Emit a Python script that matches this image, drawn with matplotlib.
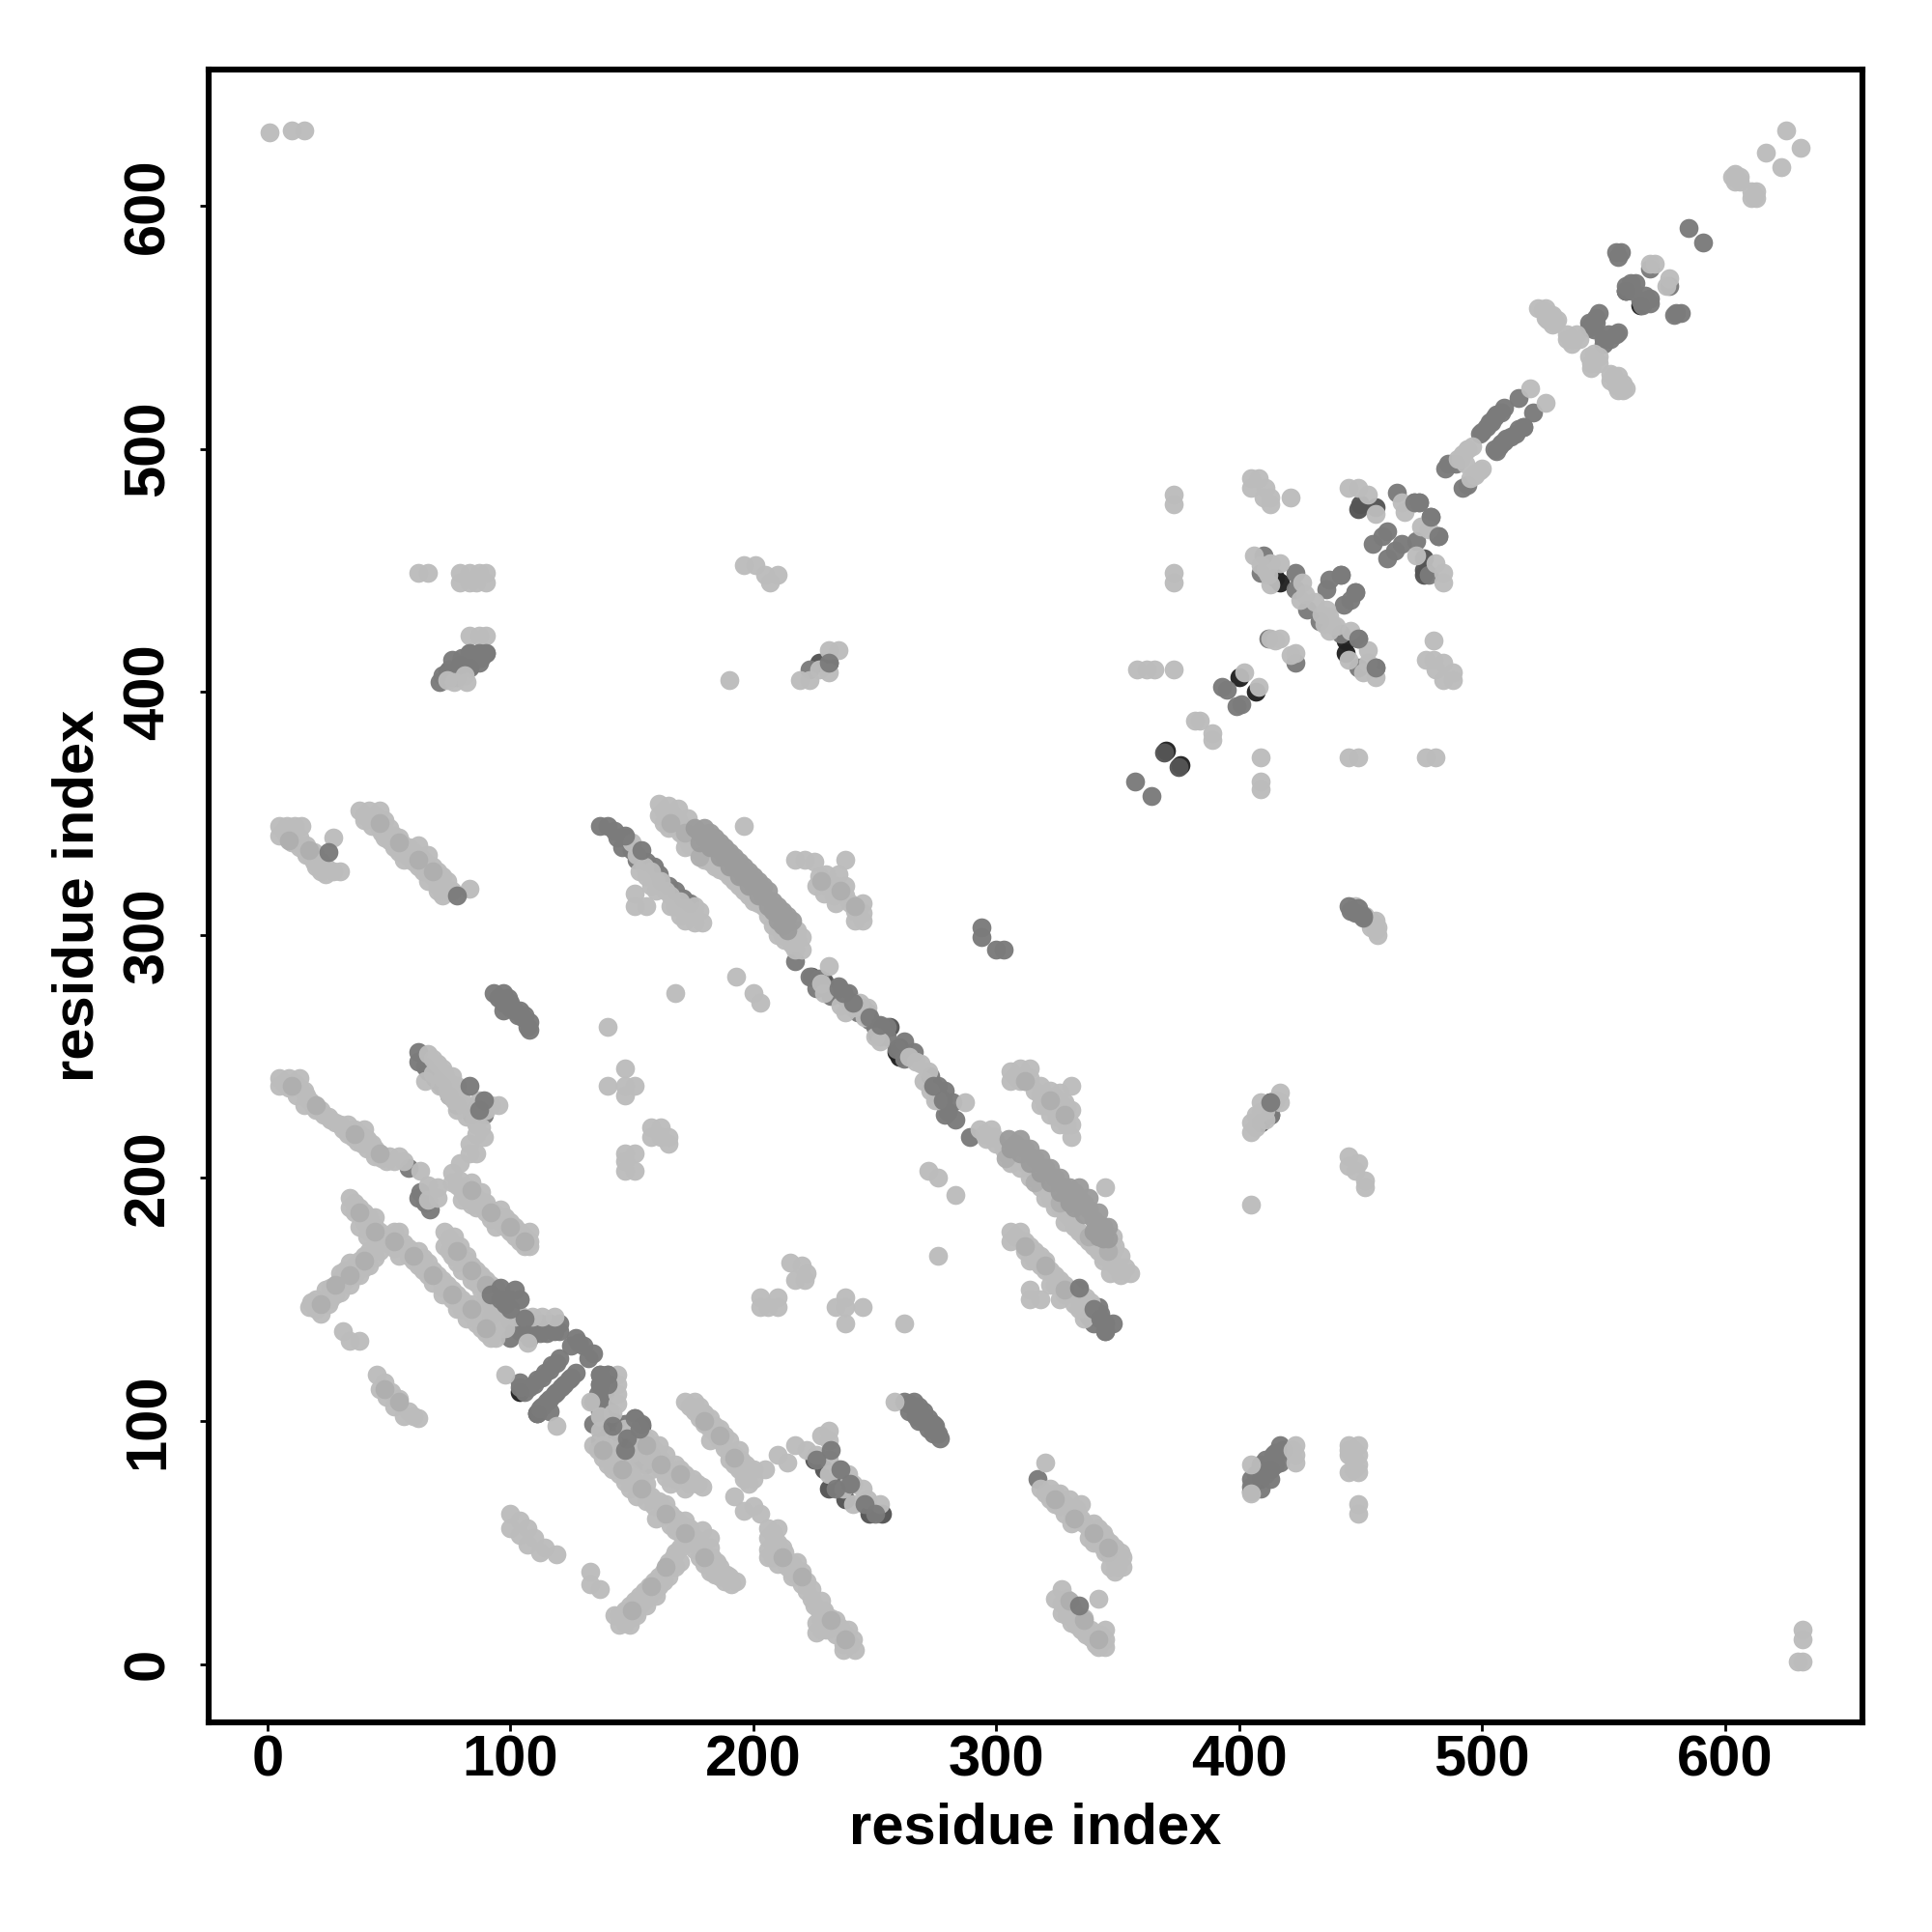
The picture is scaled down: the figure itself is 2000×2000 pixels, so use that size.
import matplotlib
matplotlib.use("Agg")
import matplotlib.pyplot as plt

# contacts, (residue, residue), grouped by grey level
black_pts = [(370,376),(376,370),(400,406),(407,400),(417,445),(415,447),(444,421),(444,416),
    (252,260),(253,262),(259,252),(260,250),(104,112),(111,103),(559,565),(565,559),(74,408),(142,100)]

dark_pts = [(369,375),(375,369),(450,477),(449,475),(456,476),(476,455),(476,450),(476,448),
    (142,99),(148,93),(154,98),(141,97),(137,92),(146,90),(231,412),(227,412),(413,231),(413,226),
    (409,223),(83,410),(79,411),(76,406),(224,283),(229,281),(233,76),(229,80),(225,84),(231,72),(238,68),
    (248,62),(253,62),(70,240),(66,244),(85,228),(409,80),(413,80),(409,76),(251,259),(256,262),(260,254)]

mid_pts = [(137,119),(140,119),(137,115),(140,115),(136,111),(139,111),(134,108),(138,108),(134,99),
    (141,104),(137,104),(151,101),(147,99),(145,95),(151,94),(155,90),(150,88),(158,86),(153,84),(156,82),
    (93,276),(97,276),(97,272),(100,272),(97,269),(102,269),(104,269),(105,266),(108,264),(108,261),
    (95,274),(99,274),(100,270),(103,267),(106,267),(107,262),
    (62,252),(62,248),(65,246),(69,241),(72,238),(75,234),(78,230),(84,226),(88,230),(89,226),
    (58,204),(63,194),(62,192),(67,187),(65,190),
    (92,148),(96,152),(100,150),(92,143),(96,145),(100,141),(104,143),(104,137),(100,134),(108,134),
    (106,137),(109,136),(112,136),(115,136),(118,137),(120,137),(108,140),(112,140),(116,140),(120,140),
    (127,134),(130,131),(134,128),(132,126),(120,126),(117,123),(114,120),(111,117),(108,114),(104,114),
    (104,116),(106,112),(127,120),(124,117),(121,114),(118,111),(115,108),(112,105),(116,104),(111,103),
    (119,124),(116,121),(113,118),(110,115),(125,118),(122,115),(119,112),(116,109),(113,106),(125,131),(128,132),
    (262,108),(266,108),(264,104),(270,104),(268,100),(272,101),(272,97),(275,98),(276,95),(277,93),
    (264,107),(268,106),(267,102),(270,100),(274,99),(274,95),
    (137,345),(140,345),(143,343),(147,340),(146,336),(152,331),(161,325),(165,320),(174,313),
    (144,340),(150,335),(156,330),(159,328),(162,322),(168,318),(171,315),
    (217,289),(223,283),(227,282),(230,278),(235,279),(232,275),(237,275),(240,272),(245,270),(248,265),
    (251,263),(255,262),(252,258),(259,253),(262,256),(266,252),(262,249),(273,242),(276,238),(279,236),
    (276,234),(282,231),(280,227),(283,224),(279,226),(289,217),
    (226,278),(234,277),(239,276),(243,268),(247,268),(250,262),(255,258),
    (334,154),(342,147),(345,140),(345,137),(338,143),(340,140),(343,144),
    (294,303),(294,299),(300,294),(303,294),(357,363),(364,357),(395,401),(393,402),(401,395),(399,394),
    (410,456),(409,449),(423,449),(423,442),(428,434),(442,448),(437,446),(436,442),(448,441),(443,436),
    (446,438),(442,424),(449,422),(449,410),(456,410),(433,429),(465,482),(472,478),(474,478),
    (461,466),(459,464),(455,461),(479,472),(482,464),(473,462),(467,461),(464,458),(461,455),(478,448),
    (486,494),(485,492),(494,485),(492,484),(423,412),(412,422),
    (585,591),(591,585),(555,581),(557,581),(556,579),(569,574),(577,567),(561,567),(563,568),(559,565),
    (567,561),(569,562),(566,559),(580,556),(582,556),(579,555),(547,554),(545,551),(544,550),(555,547),
    (551,545),(550,543),(515,521),(521,515),(509,517),(506,514),(503,511),(500,507),(517,509),(514,506),
    (510,504),(507,501),(506,499),(489,494),
    (548,556),(547,552),(544,552),(546,549),(556,548),(553,545),(552,547),(550,545),
    (561,568),(559,567),(562,565),(567,563),(565,561),(569,560),
    (508,515),(505,513),(502,509),(504,511),(499,506),(515,508),(512,505),(509,503),(505,500),(508,502),
    (417,90),(414,86),(417,83),(413,80),(413,76),(409,82),(409,78),(405,76),(405,71),
    (411,84),(415,87),(411,78),(407,78),(415,82),(418,88),(409,72),(405,73),
    (223,409),(83,416),(87,416),(90,416),(87,412),(83,410),(79,411),(76,413),(71,404),
    (72,407),(75,409),(80,414),(84,413),(88,414),(78,406),(82,412),
    (413,226),(317,76),(346,46)]

band_pts = [(176,344),(180,344),(180,340),(184,340),(184,336),(188,336),(188,332),(192,332),(192,328),
    (196,328),(196,324),(200,324),(200,320),(204,320),(204,316),(208,314),(208,310),(212,310),(216,306),
    (212,304),(305,216),(308,214),(312,212),(316,208),(320,204),(324,200),(328,196),(332,194),(332,188),
    (336,190),(336,185),(340,183),(340,178),(344,180),(344,175),
    (178,342),(182,342),(186,338),(190,334),(194,330),(198,326),(202,322),(206,318),(210,312),(214,308),
    (178,338),(182,336),(186,332),(190,328),(194,324),(198,320),(202,316),(206,312),(210,306),(214,302),
    (306,212),(310,210),(314,206),(318,202),(322,198),(326,194),(330,190),(334,192),(338,187),(342,181),
    (310,216),(314,212),(318,208),(322,204),(326,200),(330,196),(334,196),(338,192),(342,186),(346,180),
    (346,175),(342,176)]

# left part of the map
light_left = [(1,630),(10,631),(15,631),(5,345),(8,345),(11,345),(14,345),(5,341),(8,341),(10,338),(13,340),
    (13,336),(16,337),(16,333),(19,334),(19,330),(22,330),(22,326),(25,327),(27,326),(30,326),(27,340),
    (7,343),(10,342),(12,338),(15,335),(18,332),(20,328),(24,328),(24,325),
    (38,351),(42,351),(46,351),(40,347),(44,347),(48,347),(46,344),(50,344),(52,341),(48,340),(55,338),
    (52,336),(58,336),(62,337),(58,332),(63,332),(66,333),(62,328),(68,328),(68,324),(72,324),(72,320),
    (76,318),(72,316),(83,319),
    (40,349),(44,349),(43,345),(47,342),(50,339),(54,340),(54,334),(60,334),(56,331),(60,330),(65,330),
    (64,326),(70,326),(66,322),(70,320),(74,322),(74,318),(70,318),
    (5,241),(9,241),(13,241),(5,238),(9,237),(13,237),(16,234),(12,234),(18,231),(15,230),(20,228),(23,226),
    (26,224),(30,222),(33,218),(33,222),(36,220),(40,220),(37,215),(41,216),(44,212),(41,212),(44,209),
    (47,208),(50,209),(54,209),(56,207),(63,203),(66,197),(66,191),(70,196),(70,192),
    (7,239),(11,239),(15,236),(17,232),(19,229),(22,228),(25,225),(28,223),(31,220),(35,217),(38,218),
    (39,214),(43,214),(46,210),(49,207),(52,207),
    (66,251),(70,247),(73,243),(76,242),(78,238),(65,240),(71,238),(75,234),(80,232),(78,228),(82,225),
    (86,222),(92,230),(95,230),(90,228),(88,221),(76,202),(79,206),(83,210),(86,210),(83,214),(89,217),
    (68,249),(72,245),(68,243),(72,241),(75,239),(74,236),(78,234),(77,232),(81,229),(84,229),(85,224),(87,232),
    (86,218),(76,198),(80,195),(84,198),(84,193),(88,194),(90,190),(86,188),(92,187),(96,187),(92,183),
    (96,182),(100,182),(100,178),(104,178),(104,174),(108,174),(108,178),(108,172),
    (78,197),(82,196),(82,192),(86,192),(88,190),(90,186),(94,185),(94,180),(98,184),(98,180),(102,176),
    (106,176),(102,180),(106,172),(79,199),(80,191),(84,189),
    (34,192),(34,188),(38,188),(42,184),(38,180),(44,180),(41,176),(48,176),(52,178),(54,178),(56,173),
    (50,173),(58,168),(62,170),(62,164),(66,165),(66,160),(70,160),(74,156),(72,152),(78,152),(82,148),
    (78,146),(86,146),(82,142),(90,140),(92,136),(88,138),(92,134),(92,144),
    (36,190),(36,186),(40,186),(40,182),(44,184),(42,178),(46,178),(50,176),(46,174),(52,171),(54,168),
    (58,171),(60,166),(64,167),(64,162),(68,162),(68,157),(72,158),(72,155),(76,154),(76,150),(80,150),
    (80,146),(84,148),(84,144),(88,142),(86,140),(90,136),(94,138),(94,142),(90,144),(94,134),
    (17,147),(22,144),(20,150),(25,148),(28,152),(24,154),(30,158),(28,154),(34,156),(32,162),(36,164),
    (38,160),(40,168),(42,164),(46,170),(44,172),(49,174),
    (18,149),(20,146),(22,148),(24,150),(26,150),(26,155),(30,153),(32,158),(30,161),(34,160),(36,160),
    (34,165),(38,166),(40,163),(44,167),(42,170),(46,173),
    (31,137),(34,133),(38,133),(45,119),(48,116),(46,113),(51,112),(49,110),(54,109),(52,106),(58,104),
    (56,102),(60,102),(62,101),(73,178),(77,176),(73,172),(79,172),(76,168),(82,166),(80,166),(84,164),
    (88,160),(84,158),(92,156),(88,154),(94,152),(90,148),(96,148),(88,144),(96,142),(104,150),(100,144),
    (75,175),(75,170),(78,170),(78,165),(82,168),(80,162),(84,161),(86,162),(86,157),(90,158),(90,153),
    (94,155),(92,150),(96,145),(92,146),(98,146),(102,143),(98,138),(96,143),
    (105,143),(109,143),(113,143),(118,143),(107,132),(98,119),(119,98),(100,62),(104,59),(100,56),
    (107,56),(104,53),(110,52),(107,49),(114,48),(112,46),(119,45),
    (62,449),(66,449),(79,449),(83,449),(87,449),(90,449),(79,445),(83,445),(86,445),(90,445),
    (83,423),(87,423),(90,423),(82,404),(77,404),(81,407),(74,405)]

# middle part of the map
light_mid = [(144,119),(144,115),(144,111),(144,107),(133,108),(137,102),(142,103),(137,96),(142,92),(147,97),
    (157,93),(153,83),(161,90),(164,86),(168,82),(172,78),(175,76),(179,73),(172,72),(164,77),(158,80),
    (150,96),(155,93),(152,90),(159,88),(156,86),(162,84),(158,84),(166,80),(162,80),(168,76),(170,80),
    (174,74),(177,74),(166,74),
    (150,87),(146,82),(134,90),(138,90),(142,88),(138,85),(142,84),(146,84),(142,80),(147,78),(150,78),
    (147,75),(153,76),(154,72),(158,69),(156,67),(161,67),(164,66),(164,61),(168,60),(172,59),(168,55),
    (172,53),(176,52),(179,55),(182,52),(176,47),(180,46),(180,41),(185,42),(184,37),(189,37),(193,34),(188,34),
    (136,88),(140,86),(144,86),(140,82),(144,82),(148,80),(145,78),(151,74),(149,72),(156,74),(152,69),
    (156,70),(159,65),(163,64),(160,60),(166,62),(170,58),(166,57),(170,54),(174,56),(174,50),(178,50),
    (178,44),(182,48),(183,44),(186,40),(182,38),(186,36),(190,36),(191,33),
    (143,20),(147,17),(147,22),(151,21),(151,26),(155,26),(155,30),(159,30),(159,34),(163,34),(163,38),
    (166,40),(167,44),(170,42),(170,48),(172,50),(173,55),(133,38),(133,33),(137,31),
    (145,20),(149,19),(149,24),(153,24),(153,28),(157,28),(157,32),(161,32),(161,36),(165,36),(165,42),
    (168,40),(168,46),(145,16),(149,16),(152,20),(156,24),(160,28),
    (192,69),(196,63),(200,65),(203,62),(172,108),(176,108),(176,104),(180,103),(180,99),(184,98),(185,94),
    (182,92),(188,94),(188,89),(192,86),(190,84),(195,84),(194,80),(198,80),(200,76),(196,76),(205,80),
    (174,106),(178,106),(178,101),(182,101),(182,97),(186,97),(186,92),(190,92),(190,87),(194,88),(192,82),
    (197,82),(196,78),(200,80),(198,74),
    (210,86),(214,83),(217,90),(222,88),(206,56),(210,56),(206,52),(210,50),(206,47),(206,44),(210,46),
    (213,46),(210,41),(214,40),(218,42),(218,37),(220,33),(216,36),(222,30),(224,27),(227,22),(226,17),
    (226,13),(230,20),(234,18),(230,14),(234,12),(238,12),(237,8),(241,10),(237,6),(242,6),
    (208,54),(208,49),(208,44),(212,48),(212,43),(216,41),(216,38),(220,38),(222,34),(224,31),(225,24),
    (228,26),(229,22),(232,19),(232,15),(236,15),(239,14),(240,8),(228,18),(228,14),
    (231,96),(228,94),(231,92),(226,86),(231,84),(235,80),(231,78),(239,78),(241,74),(237,72),(245,72),
    (247,68),(252,66),(241,66),(258,108),
    (150,338),(155,328),(158,326),(162,322),(160,318),(166,316),(166,312),(170,314),(170,308),(174,309),
    (178,310),(176,305),(179,305),(151,317),(151,312),(156,312),
    (152,333),(153,326),(156,324),(160,322),(158,320),(164,318),(168,312),(172,311),(176,312),(172,306),(176,308),
    (161,354),(165,353),(169,352),(161,349),(165,349),(169,347),(173,348),(165,344),(170,342),(175,340),
    (172,336),(177,335),(180,331),(184,328),(188,326),(192,322),(196,318),(200,314),(204,312),(208,304),
    (210,300),(213,298),(216,300),(220,299),(220,294),(217,294),(196,345),
    (163,351),(167,349),(163,346),(167,345),(171,344),(172,340),(174,337),(179,333),(182,330),(186,327),
    (190,324),(194,320),(198,316),(202,313),(206,308),(212,300),(218,298),(218,302),(212,302),(216,296),
    (217,331),(221,331),(225,330),(238,331),(227,324),(230,325),(235,325),(226,320),(230,320),(234,320),
    (238,320),(229,317),(233,316),(238,316),(234,313),(240,313),(245,313),(245,309),(242,306),(245,306),
    (242,310),(168,276),(193,283),(200,276),(203,272),(140,262),
    (231,287),(228,280),(238,268),(244,272),(247,270),(250,258),(264,250),(269,247),(272,244),(270,240),
    (229,276),(236,271),(241,270),(246,266),(252,256),(267,248),(273,236),(275,232),
    (276,232),(287,231),(293,220),(298,220),(296,216),(300,214),(303,212),(308,208),(312,206),(316,202),
    (320,198),(322,192),(326,188),(330,184),(334,178),(338,174),(342,170),(345,172),(348,176),(348,170),
    (347,166),(351,168),(351,162),(355,161),(347,161),(351,160),(345,196),(272,203),(276,200),(283,193),(276,168),
    (295,218),(299,217),(304,210),(306,206),(310,204),(314,200),(318,196),(322,196),(320,192),(324,188),
    (328,186),(328,182),(332,180),(336,176),(340,172),(340,176),(344,168),(344,166),(349,164),(353,163),(349,172),
    (306,244),(310,245),(314,245),(306,240),(312,240),(318,238),(318,234),(322,236),(326,235),(318,230),
    (322,230),(328,231),(322,226),(328,226),(331,228),(326,222),(331,222),(331,217),(331,238),
    (308,242),(310,240),(314,241),(316,236),(320,234),(324,233),(320,230),(325,229),(325,225),(329,229),(329,222),
    (306,178),(310,178),(306,174),(314,172),(318,168),(318,164),(314,166),(322,162),(326,158),(322,156),
    (330,154),(326,150),(334,150),(337,151),(338,146),(336,142),(314,154),(314,150),(318,150),
    (308,176),(312,174),(312,170),(316,170),(316,166),(320,166),(320,162),(324,160),(324,156),(328,156),
    (328,152),(332,152),(332,148),(336,148),(334,146),(339,149),
    (320,83),(318,72),(322,72),(322,68),(326,70),(326,65),(330,68),(331,63),(335,66),(331,58),(335,60),
    (338,56),(342,56),(338,52),(342,50),(345,52),(345,46),(349,48),(349,42),(352,44),(352,40),(347,40),(349,38),
    (320,70),(324,70),(324,66),(328,66),(328,62),(333,64),(333,60),(336,58),(340,58),(340,54),(344,54),
    (340,50),(344,48),(347,46),(347,50),(351,46),(350,40),
    (327,31),(324,27),(329,27),(329,23),(329,20),(331,17),(335,18),(335,14),(339,11),(341,8),(345,14),
    (345,10),(345,7),(342,7),(338,13),(342,27),
    (327,25),(331,24),(327,21),(331,21),(333,20),(333,16),(337,15),(337,12),(339,14),(343,10),(343,12),(341,12),(336,19),
    (215,165),(220,164),(222,161),(217,158),(221,158),(203,151),(203,147),(206,147),(210,151),(210,147),
    (238,151),(234,147),(238,147),(245,147),(238,140),(262,140),(147,245),(140,238),(147,238),(151,238),
    (147,234),(158,221),(162,221),(158,217),(162,217),(165,217),(165,214),(147,210),(151,210),(147,207),
    (147,203),(151,203),(196,452),(201,452),(205,448),(210,448),(207,445),(190,405),
    (219,405),(223,405),(227,409),(231,408),(231,417),(235,417)]

# right part of the map
light_right = [(625,631),(631,624),(617,622),(623,616),(604,613),(606,610),(603,612),(611,603),(613,606),(612,604),
    (604,610),(606,612),(611,606),(613,603),
    (569,576),(571,576),(577,570),(576,567),(525,557),(528,555),(530,552),(527,553),(535,545),(537,545),(540,545),
    (523,558),(526,558),(529,555),(531,553),(526,554),(529,551),(537,543),(539,547),(535,547),
    (545,535),(546,537),(546,539),(554,530),(556,527),(558,524),(555,526),(520,525),(526,519),
    (545,533),(548,535),(544,538),(548,538),(553,531),(556,530),(558,527),(559,525),(556,524),(553,528),
    (494,500),(490,496),(500,492),(497,489),(491,496),(494,500),(497,490),(492,498),(496,501),(493,494),(499,491),(495,488),
    (358,409),(362,409),(365,409),(373,409),(382,388),(384,388),(389,383),(389,380),(402,408),(408,402),
    (409,373),(445,373),(449,373),(477,373),(481,373),(409,363),(409,360),(373,481),(373,477),(373,449),(373,445),
    (405,488),(408,488),(405,484),(411,484),(410,480),(413,480),(413,477),(421,480),
    (406,456),(413,444),(417,453),(413,453),(426,445),(425,438),(431,437),(427,440),(437,431),(435,428),(437,425),
    (434,432),(438,428),(436,434),(440,427),(409,452),(411,450),(412,448),
    (446,425),(445,413),(453,417),(453,412),(456,406),(451,408),(413,422),(417,422),(415,421),(423,416),(421,415),
    (480,421),(477,413),(480,413),(484,412),(481,409),(484,405),(488,405),(488,408),
    (445,484),(449,484),(453,481),(456,473),(467,478),(468,474),(475,468),(478,467),(473,456),(481,453),(484,449),(484,445),
    (417,235),(417,231),(409,231),(409,227),(405,223),(405,219),(405,189),(445,209),(445,205),(449,206),(448,203),
    (411,228),(407,226),(415,232),(411,224),(407,221),
    (452,199),(452,196),(423,90),(423,86),(423,83),(405,82),(405,70),(445,90),(449,90),(445,86),(449,86),(445,79),
    (449,79),(449,82),(449,66),(449,62),(422,88),(445,88),(447,84),(447,80),(447,88),
    (448,312),(452,308),(456,306),(457,303),(457,300),(454,306),(454,303),(456,302),(632,14),(632,10),(630,1),(632,1)]

# slightly darker greys that give the bands their mottled look
soft_pts = [(9,339),(17,335),(46,346),(54,338),(62,331),(68,326),(10,238),(20,230),(36,218),(46,210),
    (38,186),(44,178),(52,174),(60,168),(68,160),(76,152),(84,146),(90,138),(22,148),(28,156),(34,160),(40,166),
    (78,170),(84,162),(90,156),(84,195),(92,186),(100,180),(106,174),(48,113),(54,108),
    (138,88),(146,80),(154,72),(164,62),(172,54),(180,44),(150,22),(158,32),(164,40),(180,100),(186,94),(192,85),
    (212,44),(220,36),(232,18),(238,10),(156,90),(162,82),(170,78),(166,346),(172,342),(178,332),
    (312,240),(322,232),(328,226),(312,172),(320,164),(328,154),(324,68),(332,60),(340,54),(346,48),
    (330,26),(336,18),(342,10),(304,208),(316,198),(326,190),(338,176),(346,170),(228,322),(236,318),(242,312)]

# the few mid greys that sit on top of the light ones
top_pts = [(25,334),(83,238),(78,316),(89,232),(87,228),(154,335),(147,341),(334,24),(348,140),(345,137),
    (445,312),(448,309),(451,308),(446,310),(449,311),(451,307),(413,231),(231,412),(87,416),(83,416),(90,416),(334,155),(345,140),
    (456,410),(449,422),(472,478),(474,478),(479,472),(482,464),(517,509),(442,448),(448,441),
    (137,119),(137,115),(140,119),(140,115),(96,155),(102,154),(104,150),(98,148),
    (96,150),(100,146),(106,142),(92,152),(142,98),(148,93),(153,97),(147,88),(151,101),(154,99),
    (232,88),(226,84),(236,80),(240,74),(246,66),(250,62),(234,72),
    (237,276),(241,272),(235,278),(248,266),(252,263),(340,146),(343,142),(274,238),(278,232)]

xticks = [0, 100, 200, 300, 400, 500, 600]
yticks = [0, 100, 200, 300, 400, 500, 600]

plt.rcParams['font.family'] = ['Liberation Sans', 'DejaVu Sans']
plt.rcParams['font.weight'] = 'bold'

fig = plt.figure(figsize=(10, 10), dpi=200)
ax = fig.add_axes([216/2000, 1 - 1783/2000, (1928-216)/2000, (1783-72)/2000])

layers = [(black_pts, '#222222'), (dark_pts, '#555555'), (mid_pts, '#7b7b7b'),
          (light_left + light_mid + light_right, '#bcbcbc'), (soft_pts, '#afafaf'),
          (band_pts, '#9c9c9c'), (top_pts, '#7b7b7b')]
for pts, col in layers:
    ax.scatter([p[0] for p in pts], [p[1] for p in pts], s=50, c=col, linewidths=0, alpha=0.97)

ax.set_xlim(-24.2, 656.6)
ax.set_ylim(-24, 656)
ax.set_xticks(xticks)
ax.set_yticks(yticks)
for s in ax.spines.values():
    s.set_linewidth(2.2)
ax.tick_params(length=3.4, width=1.0, labelsize=21.5)
ax.tick_params(axis='x', pad=1.2)
ax.tick_params(axis='y', pad=9)
for t in ax.get_yticklabels():
    t.set_rotation(90)
    t.set_va('center')
ax.set_xlabel('residue index', fontsize=21.5, fontweight='bold')
ax.set_ylabel('residue index', fontsize=21.5, fontweight='bold')
ax.xaxis.set_label_coords(0.5, -(1893-1783)/1711, transform=ax.transAxes)
ax.xaxis.label.set_va('center')
ax.yaxis.set_label_coords(-(216-81)/1712, 0.5, transform=ax.transAxes)
ax.yaxis.label.set_va('center')

fig.savefig('out.png', dpi=200)
